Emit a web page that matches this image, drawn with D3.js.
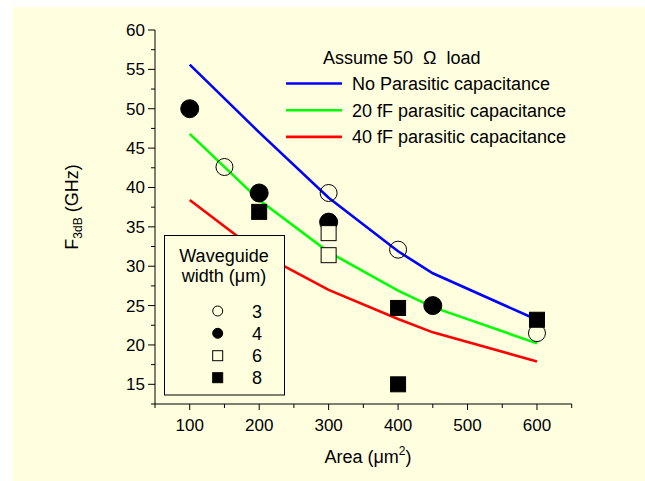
<!DOCTYPE html>
<html>
<head>
<meta charset="utf-8">
<script src="https://d3js.org/d3.v7.min.js"></script>
<style>
  body { margin: 0; background: #fff; }
  text { font-family: Arial, "Liberation Sans", sans-serif; fill: #000; }
</style>
</head>
<body>
<svg width="645" height="481"></svg>
<script>
// model curves (area in um^2, F3dB in GHz)
var lineAreas = [100, 200, 300, 400, 450, 600];
var noParasitic = [55.6, 47.0, 38.7, 31.9, 29.1, 23.2];
var par20fF = [46.8, 38.4, 31.8, 26.9, 24.8, 20.2];
var par40fF = [38.4, 31.7, 27.0, 23.3, 21.6, 17.9];

// measured points per waveguide width
var w3Area = [150, 300, 400, 600];
var w3F = [42.6, 39.3, 32.1, 21.5];
var w4Area = [100, 200, 300, 450];
var w4F = [50.0, 39.3, 35.6, 25.0];
var w6Area = [300, 300];
var w6F = [34.2, 31.4];
var w8Area = [200, 400, 400, 600];
var w8F = [36.9, 24.7, 15.0, 23.2];

var xTicks = [100, 200, 300, 400, 500, 600];
var yTicks = [15, 20, 25, 30, 35, 40, 45, 50, 55, 60];

function main() {
  var svg = d3.select("svg");

  svg.append("rect")
    .attr("x", 13).attr("y", 7)
    .attr("width", 632).attr("height", 474)
    .attr("fill", "#ffffe0");

  var x = d3.scaleLinear().domain([50, 650]).range([155, 571.7]);
  var y = d3.scaleLinear().domain([12.5, 60]).range([404, 30]);

  // axes
  var xAxis = svg.append("g").attr("transform", "translate(0,404)");
  xAxis.append("line")
    .attr("x1", x(50)).attr("x2", x(650))
    .attr("stroke", "#000");
  xAxis.selectAll(".minor")
    .data(d3.range(50, 651, 50))
    .enter().append("line")
    .attr("x1", (d) => x(d)).attr("x2", (d) => x(d))
    .attr("y1", 0).attr("y2", (d) => (d % 100 == 0 ? 6 : 4))
    .attr("stroke", "#000");
  xAxis.selectAll(".lbl")
    .data(xTicks)
    .enter().append("text")
    .attr("x", (d) => x(d)).attr("y", 27)
    .attr("text-anchor", "middle")
    .style("font-size", "17px")
    .text((d) => d);

  var yAxis = svg.append("g").attr("transform", "translate(155,0)");
  yAxis.append("line")
    .attr("y1", y(12.5)).attr("y2", y(60))
    .attr("stroke", "#000");
  yAxis.selectAll(".minor")
    .data(d3.range(12.5, 60.1, 2.5))
    .enter().append("line")
    .attr("y1", (d) => y(d)).attr("y2", (d) => y(d))
    .attr("x1", 0).attr("x2", (d) => (d % 5 == 0 ? -7 : -4))
    .attr("stroke", "#000");
  yAxis.selectAll(".lbl")
    .data(yTicks)
    .enter().append("text")
    .attr("x", -10).attr("y", (d) => y(d) + 6)
    .attr("text-anchor", "end")
    .style("font-size", "17px")
    .text((d) => d);

  // axis titles
  var xt = svg.append("text")
    .attr("x", 368).attr("y", 463)
    .attr("text-anchor", "middle")
    .style("font-size", "18px");
  xt.append("tspan").text("Area (\u03bcm");
  xt.append("tspan").attr("dy", -8).style("font-size", "12px").text("2");
  xt.append("tspan").attr("dy", 8).text(")");

  var yt = svg.append("text")
    .attr("transform", "translate(78,207) rotate(-90)")
    .attr("text-anchor", "middle")
    .style("font-size", "18px");
  yt.append("tspan").text("F");
  yt.append("tspan").attr("dy", 4).style("font-size", "12px").text("3dB");
  yt.append("tspan").attr("dy", -4).text(" (GHz)");

  // curves
  var curves = [
    { vals: noParasitic, color: "#0000ff", name: "No Parasitic capacitance" },
    { vals: par20fF, color: "#00ff00", name: "20 fF parasitic capacitance" },
    { vals: par40fF, color: "#ff0000", name: "40 fF parasitic capacitance" }
  ];
  var line = d3.line()
    .x((d, i) => x(lineAreas[i]))
    .y((d) => y(d));
  svg.selectAll(".curve")
    .data(curves)
    .enter().append("path")
    .attr("d", (d) => line(d.vals))
    .attr("fill", "none")
    .attr("stroke", (d) => d.color)
    .attr("stroke-width", 2.6);

  // markers
  function circles(xs, ys, filled) {
    svg.append("g").selectAll("circle")
      .data(xs)
      .enter().append("circle")
      .attr("cx", (d) => x(d))
      .attr("cy", (d, i) => y(ys[i]))
      .attr("r", filled ? 9 : 8.5)
      .attr("fill", filled ? "#000" : "none")
      .attr("stroke", "#000")
      .attr("stroke-width", 1);
  }
  function squares(xs, ys, filled) {
    svg.append("g").selectAll("rect")
      .data(xs)
      .enter().append("rect")
      .attr("x", (d) => x(d) - 7.5)
      .attr("y", (d, i) => y(ys[i]) - 7.5)
      .attr("width", 15).attr("height", 15)
      .attr("fill", filled ? "#000" : "#ffffe0")
      .attr("stroke", "#000")
      .attr("stroke-width", 1);
  }
  squares(w8Area, w8F, true);
  circles(w4Area, w4F, true);
  squares(w6Area, w6F, false);
  circles(w3Area, w3F, false);

  // curve legend
  var lg = svg.append("g");
  lg.append("text")
    .attr("x", 323).attr("y", 64)
    .style("font-size", "18px")
    .text("Assume 50 \u00a0\u03a9\u00a0 load");
  lg.selectAll(".item")
    .data(curves)
    .enter().append("line")
    .attr("x1", 286).attr("x2", 342)
    .attr("y1", (d, i) => 83.5 + i * 26.7)
    .attr("y2", (d, i) => 83.5 + i * 26.7)
    .attr("stroke", (d) => d.color)
    .attr("stroke-width", 2.6);
  lg.selectAll(".itemtxt")
    .data(curves)
    .enter().append("text")
    .attr("x", 352)
    .attr("y", (d, i) => 90 + i * 26.7)
    .style("font-size", "18px")
    .text((d) => d.name);

  // waveguide width legend
  var wg = svg.append("g");
  wg.append("rect")
    .attr("x", 164.5).attr("y", 235.5)
    .attr("width", 120).attr("height", 159.5)
    .attr("fill", "#ffffe0")
    .attr("stroke", "#000");
  wg.append("text").attr("x", 224).attr("y", 261.5)
    .attr("text-anchor", "middle").style("font-size", "18px")
    .text("Waveguide");
  wg.append("text").attr("x", 224).attr("y", 281.5)
    .attr("text-anchor", "middle").style("font-size", "18px")
    .text("width (\u03bcm)");
  var keys = ["3", "4", "6", "8"];
  var ky = [311, 333.3, 355.7, 377.7];
  keys.forEach(function (k, i) {
    if (i < 2) {
      wg.append("circle").attr("cx", 217.7).attr("cy", ky[i]).attr("r", 5)
        .attr("fill", i == 1 ? "#000" : "none").attr("stroke", "#000");
    } else {
      wg.append("rect").attr("x", 212.7).attr("y", ky[i] - 5)
        .attr("width", 10).attr("height", 10)
        .attr("fill", i == 3 ? "#000" : "none").attr("stroke", "#000");
    }
    wg.append("text").attr("x", 257).attr("y", ky[i] + 6.5)
      .attr("text-anchor", "middle").style("font-size", "18px")
      .text(k);
  });
}

main();
</script>
</body>
</html>
